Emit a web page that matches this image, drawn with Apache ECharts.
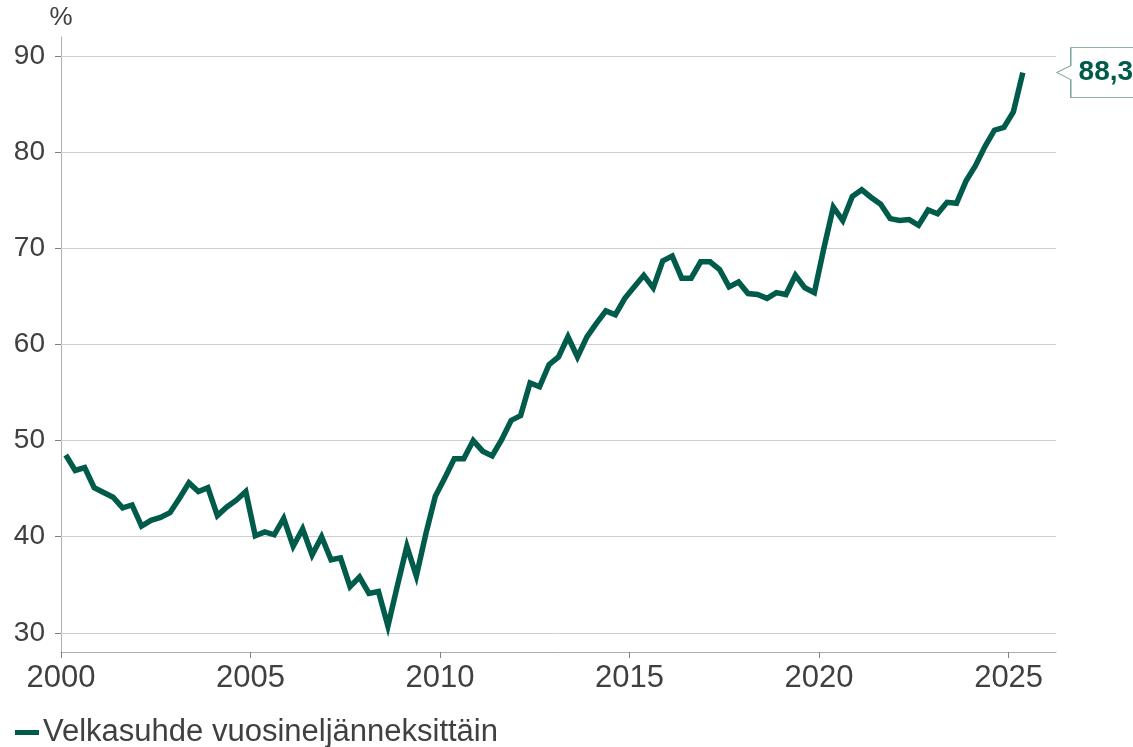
<!DOCTYPE html>
<html>
<head>
<meta charset="utf-8">
<script src="https://cdn.jsdelivr.net/npm/echarts@6/dist/echarts.min.js"></script>
<style>
html,body{margin:0;padding:0;background:#fff;}
#chart{width:1133px;height:747px;}
</style>
</head>
<body>
<div id="chart"></div>
<script>
// Quarterly values, 2000 Q1 .. 2025 Q2
const startYear = 2000;
const values = [
  48.5, 46.9, 47.2, 45.1,
  44.6, 44.1, 43.0, 43.3,
  41.1, 41.7, 42.0, 42.5,
  44.0, 45.6, 44.7, 45.1,
  42.2, 43.1, 43.8, 44.7,
  40.1, 40.5, 40.2, 41.9,
  39.0, 40.8, 38.1, 40.0,
  37.6, 37.8, 34.8, 35.8,
  34.1, 34.3, 30.7, 34.9,
  39.0, 35.9, 40.3, 44.2,
  46.1, 48.1, 48.1, 50.0,
  48.9, 48.4, 50.1, 52.1,
  52.6, 56.0, 55.6, 57.9,
  58.7, 60.8, 58.7, 60.8,
  62.2, 63.5, 63.1, 64.8,
  66.0, 67.2, 65.9, 68.7,
  69.2, 66.9, 66.9, 68.6,
  68.6, 67.8, 66.0, 66.5,
  65.3, 65.2, 64.8, 65.4,
  65.2, 67.2, 65.9, 65.4,
  70.0, 74.3, 72.9, 75.4,
  76.1, 75.3, 74.6, 73.1,
  72.9, 73.0, 72.4, 74.0,
  73.6, 74.8, 74.7, 77.0,
  78.6, 80.6, 82.3, 82.6,
  84.2, 88.3
];
const xTicks = [2000, 2005, 2010, 2015, 2020, 2025];
const yTicks = [30, 40, 50, 60, 70, 80, 90];
const seriesName = 'Velkasuhde vuosineljänneksittäin';
const unitLabel = '%';
const lastLabel = '88,3';

const points = values.map((v, i) => [startYear + Math.floor(i / 4) + (i % 4) / 4 + 0.125, v]);
const last = points[points.length - 1];

const green = '#005b4b';
const textColor = '#404040';
const font = 'Liberation Sans, Arial, sans-serif';

const chart = echarts.init(document.getElementById('chart'), null, {renderer: 'canvas'});
chart.setOption({
  animation: false,
  backgroundColor: '#ffffff',
  textStyle: {fontFamily: font},
  grid: {left: 61, right: 77, top: 37, bottom: 95, containLabel: false},
  legend: {
    left: 10, top: 712,
    icon: 'rect', itemWidth: 24, itemHeight: 5, itemGap: 10,
    textStyle: {fontSize: 31, color: textColor, fontFamily: font, padding: [0, 0, 0, -1]},
    data: [seriesName]
  },
  xAxis: {
    type: 'value', min: 2000, max: 2026.25,
    axisLine: {show: true, lineStyle: {color: '#b0b0b0', width: 1}},
    axisTick: {show: true, length: 6, lineStyle: {color: '#808080'}, customValues: xTicks},
    axisLabel: {customValues: xTicks, fontSize: 31, color: textColor, margin: 11, fontFamily: font, formatter: v => String(v)},
    splitLine: {show: false}
  },
  yAxis: {
    type: 'value', min: 28, max: 92,
    name: unitLabel, nameLocation: 'end', nameGap: 6,
    nameTextStyle: {fontSize: 26, color: textColor, fontFamily: font, align: 'center', padding: [0, 0, 0, 0]},
    axisLine: {show: true, lineStyle: {color: '#b0b0b0', width: 1}},
    axisTick: {show: true, length: 6, lineStyle: {color: '#808080'}, customValues: yTicks},
    axisLabel: {customValues: yTicks, fontSize: 28, color: textColor, margin: 16, fontFamily: font},
    splitLine: {show: false}
  },
  series: [{
    name: seriesName,
    type: 'line',
    data: points,
    showSymbol: false,
    symbol: 'none',
    lineStyle: {color: green, width: 5.5, join: 'miter'},
    itemStyle: {color: green},
    clip: false,
    z: 5,
    markLine: {
      silent: true, symbol: 'none', z: 1,
      label: {show: false},
      lineStyle: {color: '#cfcfcf', width: 1, type: 'solid'},
      data: yTicks.map(t => ({yAxis: t}))
    },
    markPoint: {
      silent: true,
      data: [{
        coord: last,
        symbol: 'path://M14 0 L90 0 L90 50 L14 50 L14 32 L0 25 L14 18 Z',
        symbolSize: [90, 50],
        symbolKeepAspect: false,
        symbolOffset: [79, 0],
        itemStyle: {color: '#ffffff', borderColor: '#6f9a90', borderWidth: 1},
        label: {
          show: true, position: 'inside', offset: [4, 0],
          formatter: lastLabel,
          fontSize: 28, fontWeight: 'bold', color: green, fontFamily: font
        }
      }]
    }
  }]
});
</script>
</body>
</html>
